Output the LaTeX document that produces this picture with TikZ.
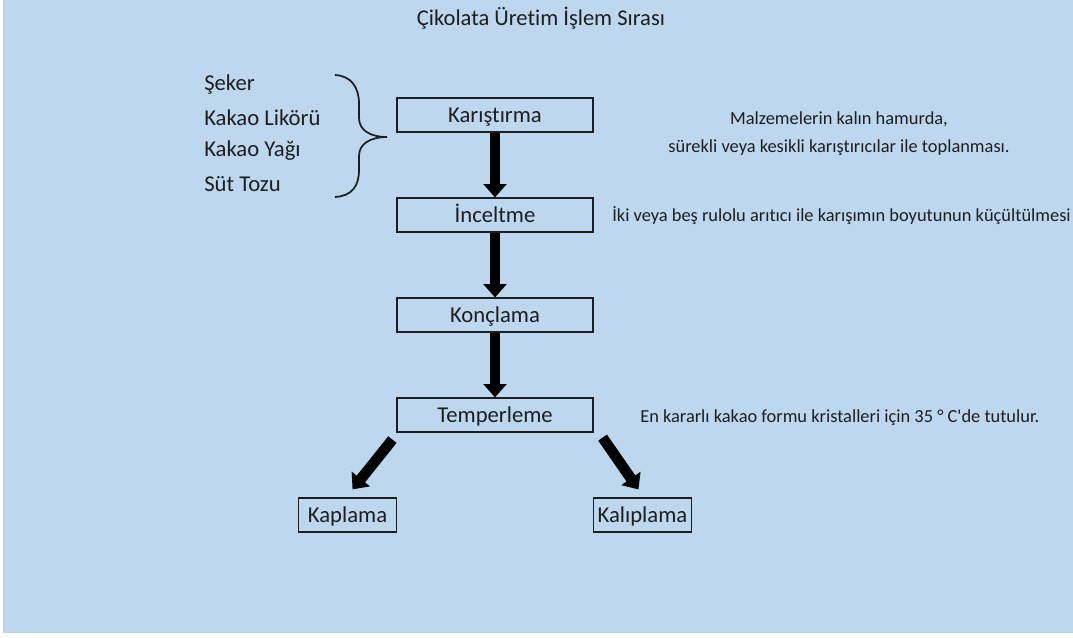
\documentclass[tikz,border=0pt]{standalone}
\usepackage{fontspec}
\setmainfont{Carlito}[Ligatures={NoCommon}]
\usepackage{tikz}
\usetikzlibrary{arrows.meta, positioning}
\definecolor{bgblue}{HTML}{BDD7EE}
\definecolor{inkgray}{HTML}{1E1E1E}
\tikzstyle{stage} = [rectangle, minimum width=147pt, minimum height=25.5pt, text centered, text height=11pt, text depth=0pt, draw=inkgray, line width=0.9pt, text=inkgray, font=\fontsize{17}{19}\selectfont]
\tikzstyle{endstage} = [stage, minimum width=74pt]
\tikzstyle{item} = [anchor=west, inner sep=0pt, text=inkgray, font=\fontsize{17}{19}\selectfont]
\tikzstyle{note} = [inner sep=0pt, align=center, text=inkgray, font=\fontsize{13.8}{21}\selectfont]
\tikzstyle{fat} = [line width=8pt, black, -{Triangle[width=17pt,length=10pt]}]

\begin{document}
\begin{tikzpicture}[x=0.75pt, y=-0.75pt, node distance=75pt]
	\useasboundingbox (0,0) rectangle (1073,637);
	\fill[bgblue] (3,0) rectangle (1073,633);
	\draw[black!20, line width=0.5pt] (3,0) -- (3,633);

	\node (title) [text=inkgray, font=\fontsize{16.9}{19}\selectfont] at (541,18) {Çikolata Üretim İşlem Sırası};

	\node (kar) [stage] at (495,115) {Karıştırma};
	\node (inc) [stage, below of=kar] {İnceltme};
	\node (konc) [stage, below of=inc] {Konçlama};
	\node (temp) [stage, below of=konc] {Temperleme};
	\node (kap) [endstage, below of=temp, xshift=-110.6pt] {Kaplama};
	\node (kal) [endstage, below of=temp, xshift=110.6pt] {Kalıplama};

	% ingredients
	\node (seker) [item] at (204,85) {Şeker};
	\node (likor) [item] at (204,118) {Kakao Likörü};
	\node (yag) [item] at (204,151) {Kakao Yağı};
	\node (sut) [item] at (204,184) {Süt Tozu};
	\draw[inkgray, line width=1.3pt] (335,75) .. controls (352,76) and (359,88) .. (359,104) -- (359,118)
		.. controls (359,130) and (370,137) .. (387,137)
		.. controls (370,137) and (359,144) .. (359,156) -- (359,170)
		.. controls (359,186) and (352,196) .. (335,197);

	% notes
	\node (mixnote) [note] at (839,134) {Malzemelerin kalın hamurda,\\sürekli veya kesikli karıştırıcılar ile toplanması.};
	\node (refnote) [note, anchor=west] at (612,216) {İki veya beş rulolu arıtıcı ile karışımın boyutunun küçültülmesi};
	\node (tempnote) [note, anchor=west] at (640,418) {En kararlı kakao formu kristalleri için 35 ° C\textquotesingle de tutulur.};

	\draw [fat] (kar) -- (inc);
	\draw [fat] (inc) -- (konc);
	\draw [fat] (konc) -- (temp);
	\draw [fat] ([shift={(-4,7)}]temp.south west) -- ([shift={(5,-8)}]kap.north);
	\draw [fat] ([shift={(9,5)}]temp.south east) -- ([shift={(-4,-8)}]kal.north);
\end{tikzpicture}
\end{document}
